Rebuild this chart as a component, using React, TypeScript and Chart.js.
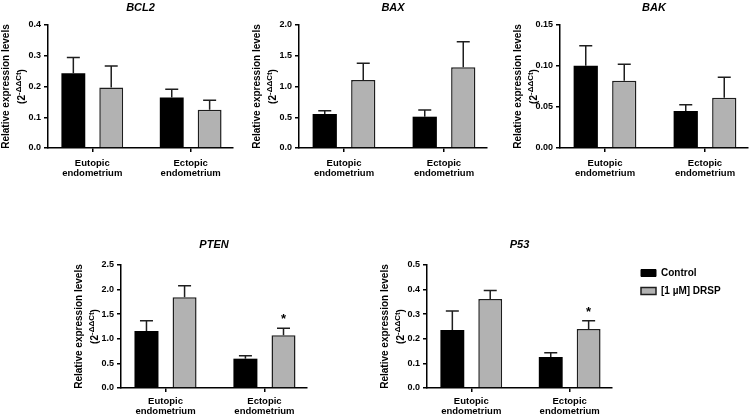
import React, { useEffect, useRef } from 'react';
import { Chart, registerables } from 'chart.js';

Chart.register(...registerables);

const FONT = "'Liberation Sans', Arial, Helvetica, sans-serif";
Chart.defaults.font.family = FONT;

// ---------- data ----------
const groupLabels = [['Eutopic', 'endometrium'], ['Ectopic', 'endometrium']];
const seriesNames = ['Control', '[1 µM] DRSP'];
const yTitleMain = 'Relative expression levels';
const yTitleBase = '(2';
const yTitleSup = '-ΔΔCt';
const yTitleEnd = ')';

const bcl2Control = [0.243, 0.164];
const bcl2ControlErr = [0.051, 0.027];
const bcl2Drsp = [0.197, 0.124];
const bcl2DrspErr = [0.07, 0.031];
const bcl2DrspSig = ['', ''];

const baxControl = [0.553, 0.509];
const baxControlErr = [0.054, 0.109];
const baxDrsp = [1.106, 1.312];
const baxDrspErr = [0.271, 0.416];
const baxDrspSig = ['', ''];

const bakControl = [0.1004, 0.0451];
const bakControlErr = [0.0244, 0.0077];
const bakDrsp = [0.0821, 0.0613];
const bakDrspErr = [0.0199, 0.0249];
const bakDrspSig = ['', ''];

const ptenControl = [1.158, 0.596];
const ptenControlErr = [0.21, 0.061];
const ptenDrsp = [1.843, 1.071];
const ptenDrspErr = [0.236, 0.142];
const ptenDrspSig = ['', '*'];

const p53Control = [0.236, 0.126];
const p53ControlErr = [0.077, 0.0175];
const p53Drsp = [0.362, 0.24];
const p53DrspErr = [0.034, 0.0336];
const p53DrspSig = ['', '*'];

const yMaxes = [0.4, 2.0, 0.15, 2.5, 0.5];
const ySteps = [0.1, 0.5, 0.05, 0.5, 0.1];
const yDecimals = [1, 1, 2, 1, 1];
const genes = ['BCL2', 'BAX', 'BAK', 'PTEN', 'P53'];

// ---------- styles ----------
const CONTROL_COLOR = '#000000';
const DRSP_COLOR = '#b2b2b2';
const EDGE_COLOR = '#1e1e1e';

type Panel = {
  gene: string;
  values: number[][];
  errors: number[][];
  sig: string[][];
  yMax: number;
  yStep: number;
  dec: number;
  left: number;
  top: number;
  width: number;
  height: number;
  yAxisW: number;
  padRight: number;
  titleY: number;
  plotTop: number;
  labelPad: number;
};

const panels: Panel[] = [
  {
    gene: genes[0], values: [bcl2Control, bcl2Drsp], errors: [bcl2ControlErr, bcl2DrspErr], sig: [['', ''], bcl2DrspSig],
    yMax: yMaxes[0], yStep: ySteps[0], dec: yDecimals[0],
    left: 0, top: 0, width: 245, height: 178, yAxisW: 48, padRight: 12, titleY: 7.5, plotTop: 25, labelPad: 6,
  },
  {
    gene: genes[1], values: [baxControl, baxDrsp], errors: [baxControlErr, baxDrspErr], sig: [['', ''], baxDrspSig],
    yMax: yMaxes[1], yStep: ySteps[1], dec: yDecimals[1],
    left: 250, top: 0, width: 250, height: 178, yAxisW: 49, padRight: 13, titleY: 7.5, plotTop: 25, labelPad: 6,
  },
  {
    gene: genes[2], values: [bakControl, bakDrsp], errors: [bakControlErr, bakDrspErr], sig: [['', ''], bakDrspSig],
    yMax: yMaxes[2], yStep: ySteps[2], dec: yDecimals[2],
    left: 505, top: 0, width: 245, height: 178, yAxisW: 55, padRight: 2, titleY: 7.5, plotTop: 25, labelPad: 6,
  },
  {
    gene: genes[3], values: [ptenControl, ptenDrsp], errors: [ptenControlErr, ptenDrspErr], sig: [['', ''], ptenDrspSig],
    yMax: yMaxes[3], yStep: ySteps[3], dec: yDecimals[3],
    left: 60, top: 230, width: 260, height: 185, yAxisW: 61, padRight: 13, titleY: 244.5, plotTop: 265, labelPad: 4.5,
  },
  {
    gene: genes[4], values: [p53Control, p53Drsp], errors: [p53ControlErr, p53DrspErr], sig: [['', ''], p53DrspSig],
    yMax: yMaxes[4], yStep: ySteps[4], dec: yDecimals[4],
    left: 330, top: 230, width: 290, height: 185, yAxisW: 97, padRight: 8, titleY: 244.5, plotTop: 265, labelPad: 4.5,
  },
];

function makeAnnotationPlugin(p: Panel) {
  return {
    id: 'annot_' + p.gene,
    afterDatasetsDraw(chart: any) {
      const ctx = chart.ctx;
      const yScale = chart.scales.y;
      ctx.save();
      chart.data.datasets.forEach((_: any, di: number) => {
        const meta = chart.getDatasetMeta(di);
        meta.data.forEach((el: any, i: number) => {
          const v = p.values[di][i];
          const e = p.errors[di][i];
          const x = el.x;
          const y0 = yScale.getPixelForValue(v);
          const y1 = yScale.getPixelForValue(v + e);
          ctx.strokeStyle = EDGE_COLOR;
          ctx.lineWidth = 1.5;
          ctx.beginPath();
          ctx.moveTo(x, y0);
          ctx.lineTo(x, y1);
          ctx.moveTo(x - 6.5, y1);
          ctx.lineTo(x + 6.5, y1);
          ctx.stroke();
          const s = p.sig[di][i];
          if (s) {
            ctx.fillStyle = '#000';
            ctx.font = `bold 13px ${FONT}`;
            ctx.textAlign = 'center';
            ctx.textBaseline = 'alphabetic';
            ctx.fillText(s, x, y1 - 5);
          }
        });
      });
      ctx.restore();
    },
    afterDraw(chart: any) {
      const ctx = chart.ctx;
      const ca = chart.chartArea;
      const cy = (ca.top + ca.bottom) / 2;
      ctx.save();
      ctx.fillStyle = '#000';
      ctx.translate(ca.left - 42, cy);
      ctx.rotate(-Math.PI / 2);
      ctx.textAlign = 'center';
      ctx.textBaseline = 'middle';
      ctx.font = `bold 10px ${FONT}`;
      ctx.fillText(yTitleMain, 0, 0);
      ctx.restore();

      ctx.save();
      ctx.fillStyle = '#000';
      ctx.translate(ca.left - 26, cy);
      ctx.rotate(-Math.PI / 2);
      ctx.textAlign = 'left';
      ctx.textBaseline = 'middle';
      const f1 = `bold 10px ${FONT}`;
      const f2 = `bold 8px ${FONT}`;
      ctx.font = f1;
      const a = ctx.measureText(yTitleBase).width;
      const c = ctx.measureText(yTitleEnd).width;
      ctx.font = f2;
      const b = ctx.measureText(yTitleSup).width;
      const x0 = -(a + b + c) / 2;
      ctx.font = f1;
      ctx.fillText(yTitleBase, x0, 0);
      ctx.font = f2;
      ctx.fillText(yTitleSup, x0 + a, -3);
      ctx.font = f1;
      ctx.fillText(yTitleEnd, x0 + a + b, 0);
      ctx.restore();
    },
  };
}

function PanelChart({ p }: { p: Panel }) {
  const ref = useRef<HTMLCanvasElement | null>(null);
  useEffect(() => {
    if (!ref.current) return;
    const colors = [CONTROL_COLOR, DRSP_COLOR];
    const borders = [CONTROL_COLOR, EDGE_COLOR];
    const chart = new Chart(ref.current, {
      type: 'bar',
      data: {
        datasets: p.values.map((vals, di) => ({
          label: seriesNames[di],
          data: vals.map((v, i) => ({ x: i, y: v })),
          backgroundColor: colors[di],
          borderColor: borders[di],
          borderWidth: di === 0 ? 0 : 1.5,
          categoryPercentage: 0.77,
          barPercentage: 0.63,
        })),
      },
      options: {
        animation: false,
        responsive: false,
        events: [],
        layout: { padding: { left: 0, right: p.padRight, top: 0, bottom: 0 } },
        plugins: {
          legend: { display: false },
          tooltip: { enabled: false },
          title: {
            display: true,
            text: p.gene,
            fullSize: false,
            color: '#000',
            font: { family: FONT, size: 11, weight: 'bold', style: 'italic', lineHeight: 1.2 },
            padding: { top: p.titleY - p.top - 6.6, bottom: p.plotTop - p.titleY - 6.6 },
          },
        },
        scales: {
          x: {
            type: 'linear',
            min: -0.45,
            max: 1.43,
            offset: false,
            afterBuildTicks: (s: any) => {
              s.ticks = groupLabels.map((_, i) => ({ value: i }));
            },
            afterFit: (s: any) => {
              s.height = p.height - (p.plotTop - p.top) - 123;
            },
            grid: {
              display: true,
              drawOnChartArea: false,
              drawTicks: true,
              tickLength: 4,
              color: '#000',
              lineWidth: 1.5,
              offset: false,
            },
            border: { display: true, color: '#000', width: 1.5 },
            ticks: {
              autoSkip: false,
              maxRotation: 0,
              minRotation: 0,
              padding: p.labelPad,
              color: '#000',
              font: { family: FONT, size: 9.5, weight: 'bold', lineHeight: 1.05 },
              callback: (v: any) => groupLabels[Number(v)] ?? '',
            },
          },
          y: {
            type: 'linear',
            min: 0,
            max: p.yMax,
            afterFit: (s: any) => {
              s.width = p.yAxisW;
            },
            grid: {
              display: true,
              drawOnChartArea: false,
              drawTicks: true,
              tickLength: 4,
              color: '#000',
              lineWidth: 1.5,
            },
            border: { display: true, color: '#000', width: 1.5 },
            ticks: {
              stepSize: p.yStep,
              padding: 3,
              color: '#000',
              font: { family: FONT, size: 9, weight: 'bold' },
              callback: (v: any) => Number(v).toFixed(p.dec),
            },
          },
        },
      } as any,
      plugins: [makeAnnotationPlugin(p)],
    });
    return () => chart.destroy();
  }, [p]);
  return (
    <canvas
      ref={ref}
      width={p.width}
      height={p.height}
      style={{ position: 'absolute', left: p.left, top: p.top, width: p.width, height: p.height }}
    />
  );
}

function LegendChart() {
  const ref = useRef<HTMLCanvasElement | null>(null);
  useEffect(() => {
    if (!ref.current) return;
    const chart = new Chart(ref.current, {
      type: 'bar',
      data: {
        labels: [],
        datasets: [
          { label: seriesNames[0], data: [], backgroundColor: CONTROL_COLOR, borderColor: CONTROL_COLOR, borderWidth: 1 },
          { label: seriesNames[1], data: [], backgroundColor: DRSP_COLOR, borderColor: EDGE_COLOR, borderWidth: 1.5 },
        ],
      },
      options: {
        animation: false,
        responsive: false,
        events: [],
        layout: { padding: 0 },
        scales: { x: { display: false }, y: { display: false } },
        plugins: {
          tooltip: { enabled: false },
          title: { display: false },
          legend: {
            display: true,
            position: 'top',
            align: 'start',
            maxHeight: 80,
            labels: {
              boxWidth: 15,
              boxHeight: 7,
              padding: 8,
              color: '#000',
              font: { family: FONT, size: 10, weight: 'bold' },
            },
          },
        },
      } as any,
    });
    return () => chart.destroy();
  }, []);
  return (
    <canvas
      ref={ref}
      width={117}
      height={110}
      style={{ position: 'absolute', left: 633, top: 260, width: 117, height: 110 }}
    />
  );
}

export default function App() {
  return (
    <div style={{ position: 'fixed', left: 0, top: 0, width: 750, height: 415, background: '#fff', overflow: 'hidden' }}>
      {panels.map((p) => (
        <PanelChart key={p.gene} p={p} />
      ))}
      <LegendChart />
    </div>
  );
}
